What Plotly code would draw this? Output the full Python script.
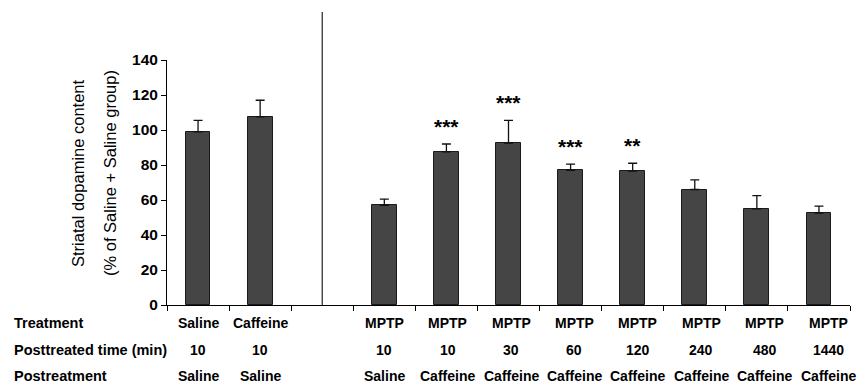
import plotly.graph_objects as go

# Group data: striatal dopamine (% of Saline + Saline group), mean and SEM
treatment = ["Saline", "Caffeine", "", "MPTP", "MPTP", "MPTP", "MPTP", "MPTP", "MPTP", "MPTP", "MPTP"]
post_time = ["10", "10", "", "10", "10", "30", "60", "120", "240", "480", "1440"]
postreatment = ["Saline", "Saline", "", "Saline", "Caffeine", "Caffeine", "Caffeine", "Caffeine",
                "Caffeine", "Caffeine", "Caffeine"]
means = [99, 107.5, None, 57, 87.5, 92.5, 77, 76.5, 66, 55, 52.5]
sems = [6.5, 9.5, None, 3.5, 4.5, 13, 3.5, 4.5, 5.5, 7.5, 4.0]
stars = ["", "", "", "", "***", "***", "***", "**", "", "", ""]

row_titles = ["Treatment", "Posttreated time (min)", "Postreatment"]
y_title_lines = ["Striatal dopamine content", "(% of Saline + Saline group)"]

x = list(range(len(treatment)))
L, R, T, B = 167, 14, 60, 81
W, H = 864, 386
plot_w = W - L - R
plot_h = H - T - B

font_b = "Liberation Sans, Arial, sans-serif"

fig = go.Figure()
fig.add_trace(go.Bar(
    x=x, y=means, width=0.4,
    marker=dict(color="#454545", line=dict(color="#1a1a1a", width=1)),
    error_y=dict(type="data", array=sems, arrayminus=[0] * len(sems), symmetric=False,
                 color="#111111", thickness=1.3, width=4.5),
))

ann = []
for i, s in enumerate(stars):
    if s:
        ann.append(dict(x=i, y=means[i] + sems[i], text=f"<b>{s}</b>", showarrow=False,
                        yanchor="bottom", yshift=4, font=dict(size=21, color="black", family=font_b)))

# y-axis title, two rotated lines
for xpx, line in zip([78, 110], y_title_lines):
    ann.append(dict(x=(xpx - L) / plot_w, y=(H - B - 173) / plot_h, xref="paper", yref="paper",
                    text=line, textangle=-90, showarrow=False, xanchor="center", yanchor="middle",
                    font=dict(size=16.5, color="black", family=font_b)))

row_y_px = [323, 350, 376]
rows = [treatment, post_time, postreatment]
for r, (labels, ypx) in enumerate(zip(rows, row_y_px)):
    yp = (H - B - ypx) / plot_h
    ann.append(dict(x=(12 - L) / plot_w, y=yp, xref="paper", yref="paper", text=f"<b>{row_titles[r]}</b>",
                    showarrow=False, xanchor="left", yanchor="middle",
                    font=dict(size=14.5, color="black", family=font_b)))
    for i, lab in enumerate(labels):
        if lab:
            ann.append(dict(x=i, y=yp, xref="x", yref="paper", text=f"<b>{lab}</b>", showarrow=False,
                            xanchor="center", yanchor="middle", xshift=(i - 3) * 1.3 if i >= 3 else 0,
                            font=dict(size=14, color="black", family=font_b)))

# vertical divider between control groups and MPTP groups
fig.add_shape(type="line", xref="x", yref="paper", x0=2, x1=2, y0=0, y1=(H - B - 12) / plot_h,
              line=dict(color="#222222", width=1.2))

fig.update_layout(
    width=W, height=H, margin=dict(l=L, r=R, t=T, b=B),
    paper_bgcolor="white", plot_bgcolor="white", showlegend=False,
    annotations=ann, bargap=0,
    xaxis=dict(range=[-0.5, len(x) - 0.5], tickmode="array", tickvals=[i - 0.5 for i in range(len(x) + 1)],
               showticklabels=False, ticks="outside", ticklen=5, tickcolor="black", tickwidth=1,
               showline=True, linecolor="black", linewidth=1, showgrid=False, zeroline=False),
    yaxis=dict(range=[0, 140], tickmode="array", tickvals=list(range(0, 141, 20)),
               ticks="outside", ticklen=5, tickcolor="black", tickwidth=1,
               showline=True, linecolor="black", linewidth=1, showgrid=False, zeroline=False,
               tickfont=dict(size=15.5, color="black", family=font_b, weight="bold")),
)

fig.write_html("out.html")
